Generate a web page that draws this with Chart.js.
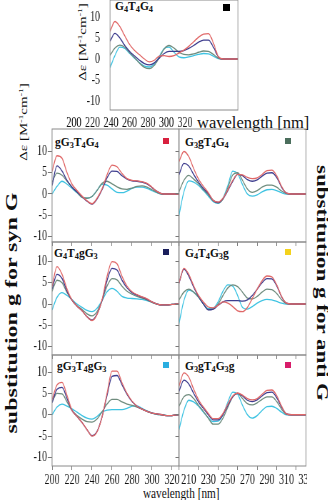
<!DOCTYPE html>
<html>
<head>
<meta charset="utf-8">
<script src="https://cdn.jsdelivr.net/npm/chart.js@4.4.1/dist/chart.umd.min.js"></script>
<style>
  body { margin: 0; background: #fff; }
  #fig { position: relative; width: 328px; height: 500px; overflow: hidden; font-family: "Liberation Serif", serif; color: #111; }
  canvas, .t, .sq { position: absolute; }
  .t { white-space: nowrap; line-height: 1; }
  .name { font-weight: bold; font-size: 11.5px; }
  .name sub { font-size: 72%; vertical-align: -0.25em; line-height: 0; }
  .sq { width: 6px; height: 6px; }
  .squeeze { transform-origin: 0 0; transform: scaleX(0.75); }
  .up { transform: translate(-50%, -50%) rotate(-90deg) scaleY(0.72); }
  .down { transform: translate(-50%, -50%) rotate(90deg) scaleY(0.72); }
</style>
</head>
<body>
<div id="fig">
  <div class="t name" style="left:115px; top:1px">G<sub>4</sub>T<sub>4</sub>G<sub>4</sub></div>
  <div class="t name" style="left:55px; top:137px">gG<sub>3</sub>T<sub>4</sub>G<sub>4</sub></div>
  <div class="t name" style="left:185px; top:137px">G<sub>3</sub>gT<sub>4</sub>G<sub>4</sub></div>
  <div class="t name" style="left:54px; top:248px">G<sub>4</sub>T<sub>4</sub>gG<sub>3</sub></div>
  <div class="t name" style="left:185px; top:248px">G<sub>4</sub>T<sub>4</sub>G<sub>3</sub>g</div>
  <div class="t name" style="left:57px; top:361px">gG<sub>3</sub>T<sub>4</sub>gG<sub>3</sub></div>
  <div class="t name" style="left:185px; top:361px">G<sub>3</sub>gT<sub>4</sub>G<sub>3</sub>g</div>

  <div class="sq" style="left:223px; top:4px; width:7px; height:7px; background:#000"></div>
  <div class="sq" style="left:163px; top:138px; background:#d8203e"></div>
  <div class="sq" style="left:285px; top:138px; background:#4b6e5c"></div>
  <div class="sq" style="left:163px; top:249px; background:#1a1f5c"></div>
  <div class="sq" style="left:285px; top:249px; background:#f4d21c"></div>
  <div class="sq" style="left:163px; top:362px; background:#2aaee0"></div>
  <div class="sq" style="left:285px; top:362px; background:#d81c6a"></div>

  <div class="t" style="left:197px; top:115px; font-size:16.5px">wavelength [nm]</div>
  <div class="t squeeze" style="left:143px; top:486px; font-size:15px">wavelength [nm]</div>

  <div class="t up" style="left:82px; top:42px; font-size:15px">&Delta;&epsilon; [M<sup style="font-size:65%">-1</sup>cm<sup style="font-size:65%">-1</sup>]</div>
  <div class="t up" style="left:23px; top:122px; font-size:15px">&Delta;&epsilon; [M<sup style="font-size:65%">-1</sup>cm<sup style="font-size:65%">-1</sup>]</div>

  <div class="t up" style="left:11px; top:313px; font-size:24px; font-weight:bold">substitution g for syn G</div>
  <div class="t down" style="left:322px; top:283px; font-size:23px; font-weight:bold">substitution g for anti G</div>
</div>
<script>
const SX = 1.4;   // canvases are drawn wider and squeezed, like the condensed original
const FONT = '"Liberation Serif", serif';
const fig = document.getElementById('fig');

const wavelengths = [200, 205, 210, 215, 220, 225, 230, 235, 240, 245, 250, 255, 260, 265,
                     270, 275, 280, 285, 290, 295, 300, 305, 310, 315, 320, 325, 330];
const yTicks = [-10, -5, 0, 5, 10];
const leftTicks = [200, 220, 240, 260, 280, 300, 320];
const rightTicks = [210, 230, 250, 270, 290, 310, 330];
const topAxisTicks = [200, 220, 240, 260, 280, 300, 320];
const traceColors = ['#e06868', '#3e3d8e', '#6f8c7e', '#3ec3e2'];

// four traces per sequence, in the order red, navy, grey, cyan
const G4T4G4 = [
  [6.5, 8.9, 7.7, 5.5, 3.4, 2.0, 1.0, 0.0, -0.7, -0.3, 0.7, 0.8, 0.6, 0.8, 1.4, 2.1, 3.0, 4.1, 5.2, 5.9, 6.0, 3.8, 0.6, 0, 0, 0, 0],
  [4.2, 6.1, 5.0, 3.2, 1.8, 0.7, -0.3, -1.1, -1.4, -0.9, 0.2, 1.3, 1.8, 1.8, 1.8, 2.0, 2.5, 3.2, 4.0, 4.5, 4.5, 2.8, 0.5, 0, 0, 0, 0],
  [0.8, 2.6, 3.3, 2.8, 1.5, 0.3, -1.0, -2.0, -2.3, -1.5, 0.3, 2.4, 3.2, 2.6, 1.6, 1.1, 1.0, 1.2, 1.6, 1.9, 1.8, 1.1, 0.2, 0, 0, 0, 0],
  [-2.1, 0.8, 2.8, 2.5, 1.3, 0.2, -0.9, -1.7, -1.9, -1.2, 0.6, 2.5, 2.8, 1.6, 0.5, 0.3, 0.5, 0.8, 1.1, 1.3, 1.2, 0.7, 0.1, 0, 0, 0, 0]
];
const gG3T4G4 = [
  [5.3, 9.0, 8.4, 5.0, 2.3, 0.8, -0.5, -1.6, -2.3, -1.0, 1.2, 4.5, 6.8, 6.4, 4.8, 3.6, 3.2, 3.1, 2.9, 2.5, 1.6, 0.6, 0.05, 0, 0, 0, 0],
  [2.0, 6.6, 5.4, 3.2, 1.6, 0.5, -0.6, -1.7, -2.4, -1.2, 1.0, 3.8, 5.4, 5.3, 4.3, 3.5, 3.1, 3.0, 2.8, 2.4, 1.5, 0.6, 0.05, 0, 0, 0, 0],
  [2.8, 4.9, 4.4, 3.0, 1.6, 0.4, -0.8, -1.0, -0.6, 0.8, 2.5, 3.0, 2.4, 1.7, 1.2, 1.1, 1.4, 1.8, 1.9, 1.6, 1.0, 0.4, 0, 0, 0, 0, 0],
  [0.0, 1.8, 3.0, 2.3, 1.3, 0.3, -0.8, -1.0, -0.6, 0.9, 2.3, 2.1, 1.2, 0.4, 0.3, 0.7, 1.3, 1.6, 1.6, 1.3, 0.8, 0.3, 0, 0, 0, 0, 0]
];
const G3gT4G4 = [
  [7.6, 10.0, 8.8, 6.0, 3.5, 1.8, 0.3, -1.5, -1.9, -1.0, 1.0, 3.2, 4.6, 4.5, 3.9, 3.6, 3.8, 4.6, 5.5, 5.6, 4.3, 1.8, 0.2, 0, 0, 0, 0],
  [4.5, 7.2, 6.6, 4.6, 2.8, 1.3, 0.1, -1.5, -2.0, -1.1, 0.8, 3.0, 4.6, 4.3, 3.4, 3.0, 3.3, 4.2, 4.9, 5.0, 3.9, 1.6, 0.2, 0, 0, 0, 0],
  [0.5, 3.2, 4.4, 3.5, 2.4, 1.0, -0.2, -1.6, -2.1, -1.2, 1.5, 4.5, 5.0, 3.2, 1.2, 0.4, 0.8, 1.6, 2.1, 2.1, 1.6, 0.7, 0.1, 0, 0, 0, 0],
  [-5.0, 0.5, 3.1, 2.8, 2.0, 0.8, -0.5, -1.8, -2.2, -1.0, 2.0, 5.4, 4.8, 2.2, 0.0, -0.5, -0.2, 0.5, 1.0, 1.1, 0.8, 0.3, 0, 0, 0, 0, 0]
];
const G4T4gG3 = [
  [4.1, 8.8, 7.0, 3.5, 0.9, -0.5, -1.6, -3.0, -3.9, -2.5, 1.0, 6.5, 10.0, 9.5, 6.5, 4.2, 2.9, 2.2, 1.7, 1.2, 0.5, 0.0, -0.2, -0.2, -0.1, 0, 0],
  [3.5, 7.0, 6.0, 3.0, 0.9, -0.5, -1.6, -3.0, -3.8, -2.4, 0.8, 5.5, 8.4, 8.0, 5.6, 3.8, 2.7, 2.1, 1.6, 1.1, 0.5, 0.0, -0.2, -0.2, -0.1, 0, 0],
  [3.0, 5.6, 5.0, 2.7, 0.9, -0.4, -1.3, -2.3, -2.8, -1.8, 0.8, 4.2, 6.0, 5.7, 4.2, 3.0, 2.3, 1.8, 1.4, 1.0, 0.4, 0.0, -0.2, -0.2, -0.1, 0, 0],
  [-1.4, 1.6, 2.7, 2.0, 1.0, 0.0, -0.8, -1.5, -1.8, -1.0, 0.8, 2.9, 3.7, 3.0, 1.8, 1.4, 1.3, 1.2, 1.1, 0.8, 0.4, 0.0, -0.2, -0.2, -0.1, 0, 0]
];
const G4T4G3g = [
  [4.9, 8.4, 7.0, 4.3, 2.0, 0.5, -0.7, -0.9, -0.3, 0.5, 0.2, -0.6, -1.6, -1.8, -0.8, 1.3, 3.5, 5.5, 6.6, 6.4, 4.5, 1.8, 0.2, 0, 0, 0, 0],
  [4.9, 8.2, 6.6, 4.0, 1.8, 0.0, -1.4, -1.2, -0.3, 0.5, 0.8, 0.8, 0.8, 0.7, 1.0, 2.0, 3.5, 5.0, 6.0, 5.9, 4.3, 1.7, 0.2, 0, 0, 0, 0],
  [1.0, 2.8, 3.5, 2.8, 1.6, 0.0, -1.3, -1.2, 0.0, 2.0, 3.8, 4.5, 4.1, 2.8, 1.4, 1.2, 1.8, 2.8, 3.5, 3.4, 2.5, 1.0, 0.1, 0, 0, 0, 0],
  [-4.6, 0.8, 3.3, 2.8, 1.6, 0.0, -1.1, -1.0, 0.5, 3.0, 4.5, 4.2, 2.0, -0.8, -1.2, -0.6, 0.2, 0.8, 1.1, 1.0, 0.6, 0.2, 0, 0, 0, 0, 0]
];
const gG3T4gG3 = [
  [3.5, 7.0, 7.6, 4.5, 1.0, -0.4, -1.8, -3.5, -5.0, -4.0, -0.5, 5.0, 10.2, 10.2, 7.5, 5.0, 3.2, 2.0, 1.3, 0.8, 0.4, 0.2, 0.0, -0.2, -0.2, 0, 0],
  [2.8, 6.0, 6.4, 3.8, 1.0, -0.4, -1.8, -3.5, -4.9, -3.9, -0.5, 4.5, 9.0, 9.2, 7.0, 4.8, 3.1, 2.0, 1.3, 0.8, 0.4, 0.2, 0.0, -0.2, -0.2, 0, 0],
  [3.0, 5.0, 4.9, 3.0, 1.0, -0.2, -1.0, -1.6, -1.7, -1.0, 0.7, 2.5, 3.6, 3.6, 3.0, 2.5, 2.2, 1.8, 1.3, 0.8, 0.4, 0.1, 0.0, -0.2, -0.2, 0, 0],
  [0.0, 1.8, 2.5, 2.0, 1.4, 0.6, -0.2, -0.8, -1.0, -0.4, 0.6, 1.1, 1.2, 1.2, 1.2, 1.5, 2.0, 2.1, 1.5, 0.9, 0.4, 0.1, 0.0, -0.2, -0.2, 0, 0]
];
const G3gT4G3g = [
  [6.7, 9.8, 8.8, 6.0, 3.5, 1.8, 0.3, -0.9, -0.9, 0.3, 2.5, 4.4, 5.1, 4.6, 3.8, 3.5, 3.8, 4.8, 5.7, 5.8, 4.5, 2.0, 0.2, 0, 0, 0, 0],
  [5.5, 8.1, 7.2, 5.0, 3.0, 1.5, 0.0, -1.2, -1.2, 0.0, 2.2, 4.2, 5.0, 4.4, 3.4, 3.1, 3.5, 4.4, 5.2, 5.3, 4.0, 1.8, 0.2, 0, 0, 0, 0],
  [2.0, 4.2, 4.7, 3.8, 2.2, 0.8, -0.8, -2.2, -2.2, -0.8, 1.8, 4.2, 5.0, 3.8, 2.6, 2.3, 2.8, 3.6, 4.2, 4.2, 3.1, 1.3, 0.1, 0, 0, 0, 0],
  [-3.5, 1.0, 3.4, 3.0, 2.0, 0.6, -0.7, -1.6, -1.5, 0.0, 3.0, 5.3, 4.8, 2.2, 0.0, -0.8, -0.2, 1.0, 1.9, 2.0, 1.5, 0.6, 0, 0, 0, 0, 0]
];

// box round every plot area
const frame = {
  id: 'frame',
  afterDatasetsDraw(chart) {
    const { ctx, chartArea: a } = chart;
    ctx.save();
    ctx.strokeStyle = '#8a8a8a';
    ctx.lineWidth = 1;
    ctx.strokeRect(a.left, a.top, a.right - a.left, a.bottom - a.top);
    ctx.restore();
  }
};

function addCanvas(left, top, w, h) {
  const c = document.createElement('canvas');
  c.width = Math.round(w * SX);
  c.height = h;
  c.style.left = left + 'px';
  c.style.top = top + 'px';
  c.style.width = w + 'px';
  c.style.height = h + 'px';
  fig.appendChild(c);
  return c;
}

function panel(p) {
  const w = p.yW + (p.R - p.L) + 1;
  const h = 1 + (p.B - p.T) + p.xH;
  const canvas = addCanvas(p.L - p.yW, p.T - 1, w, h);
  new Chart(canvas, {
    type: 'line',
    data: {
      datasets: p.traces.map((vals, i) => ({
        data: vals.map((v, j) => ({ x: wavelengths[j], y: v })),
        borderColor: traceColors[i],
        borderWidth: 1.3,
        pointRadius: 0,
        cubicInterpolationMode: 'monotone',
        fill: false
      }))
    },
    options: {
      responsive: false,
      animation: false,
      devicePixelRatio: 1,
      layout: { padding: { top: 1, right: SX, left: 0, bottom: p.xH ? 0 : 1 } },
      plugins: { legend: { display: false }, tooltip: { enabled: false } },
      scales: {
        x: {
          type: 'linear',
          display: p.xH > 0,
          min: 200,
          max: p.xMax,
          afterBuildTicks: s => { s.ticks = p.xTicks.map(v => ({ value: v })); },
          afterFit: s => { s.height = p.xH; s.paddingLeft = 0; s.paddingRight = 0; },
          grid: { drawOnChartArea: false, tickLength: 4, color: '#777', offset: !!p.offsetTicks },
          border: { display: false },
          ticks: { display: !!p.xLabels, padding: 2, color: '#111', font: { family: FONT, size: 14 },
                   maxRotation: 0, autoSkip: false }
        },
        y: {
          min: p.yMin,
          max: p.yMax,
          afterBuildTicks: s => { s.ticks = yTicks.map(v => ({ value: v })); },
          afterFit: s => { s.width = p.yW * SX; s.paddingTop = 0; s.paddingBottom = 0; },
          grid: { drawOnChartArea: false, drawTicks: p.yTickLen > 0, tickLength: p.yTickLen, color: '#777' },
          border: { display: false },
          ticks: { display: !!p.yLabels, padding: p.yPad, color: '#111', font: { family: FONT, size: 14 } }
        }
      }
    },
    plugins: [frame]
  });
}

// top panel
panel({ traces: G4T4G4, L: 110, R: 238, T: 0, B: 111, yW: 28, xH: 0, xMax: 330, xTicks: leftTicks,
        yMin: -12.1, yMax: 14, yLabels: true, yTickLen: 0, yPad: 14 });

// separate tick row written under the top panel
(function () {
  const canvas = addCanvas(60, 111, 140, 20);
  new Chart(canvas, {
    type: 'line',
    data: { datasets: [] },
    options: {
      responsive: false,
      animation: false,
      devicePixelRatio: 1,
      layout: { padding: { left: 14 * SX, right: 15 * SX, top: 0, bottom: 0 } },
      plugins: { legend: { display: false }, tooltip: { enabled: false } },
      scales: {
        x: {
          type: 'linear', min: 200, max: 320,
          afterBuildTicks: s => { s.ticks = topAxisTicks.map(v => ({ value: v })); },
          afterFit: s => { s.height = 19; s.paddingLeft = 0; s.paddingRight = 0; },
          grid: { display: false, drawTicks: false },
          border: { display: false },
          ticks: { padding: 3, color: '#111', font: { family: FONT, size: 14 }, maxRotation: 0, autoSkip: false }
        },
        y: { display: false, min: 0, max: 1 }
      }
    }
  });
})();

const rows = [
  { T: 129, B: 242, yMin: -11.3, yMax: 15.3, left: gG3T4G4, right: G3gT4G4, xH: 5, labels: false },
  { T: 242, B: 355, yMin: -12, yMax: 14.6, left: G4T4gG3, right: G4T4G3g, xH: 5, labels: false },
  { T: 355, B: 466, yMin: -12, yMax: 14, left: gG3T4gG3, right: G3gT4G3g, xH: 24, labels: true }
];

rows.forEach(r => {
  panel({ traces: r.left, L: 52, R: 179, T: r.T, B: r.B, yW: 30, xH: r.xH, xMax: 327, xTicks: leftTicks,
          xLabels: r.labels, yMin: r.yMin, yMax: r.yMax, yLabels: true, yTickLen: 6, yPad: 1 });
  panel({ traces: r.right, L: 179, R: 306, T: r.T, B: r.B, yW: 4, xH: r.xH, xMax: 330, xTicks: rightTicks,
          offsetTicks: true, xLabels: r.labels, yMin: r.yMin, yMax: r.yMax, yLabels: false, yTickLen: 5, yPad: 0 });
});
</script>
</body>
</html>
